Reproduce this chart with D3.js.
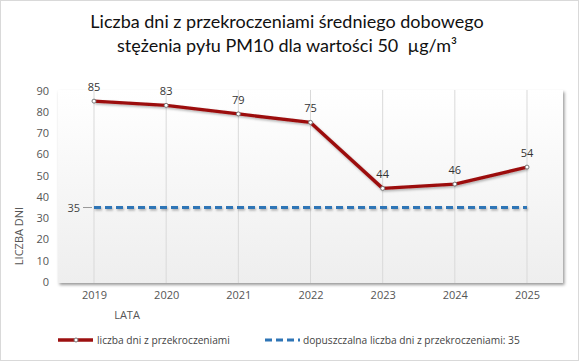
<!DOCTYPE html>
<html><head><meta charset="utf-8">
<script src="https://cdn.jsdelivr.net/npm/d3@7"></script>
<style>body{margin:0;background:#fff}svg{display:block}</style>
</head><body>
<script>
const years = ["2019","2020","2021","2022","2023","2024","2025"];
const days = [85, 83, 79, 75, 44, 46, 54];
const limitValue = 35;
const yTicks = [0,10,20,30,40,50,60,70,80,90];
const titleLines = ["Liczba dni z przekroczeniami średniego dobowego", "stężenia pyłu PM10 dla wartości 50  µg/m³"];
const seriesNames = ["liczba dni z przekroczeniami", "dopuszczalna liczba dni z przekroczeniami: 35"];

const W = 579, H = 361;
const svg = d3.select("body").append("svg").attr("width", W).attr("height", H);
const defs = svg.append("defs");
const grad = defs.append("linearGradient").attr("id","bg").attr("x1",0).attr("y1",0).attr("x2",0).attr("y2",1);
grad.append("stop").attr("offset","0%").attr("stop-color","#ffffff");
grad.append("stop").attr("offset","100%").attr("stop-color","#eeeeee");
const sh = defs.append("filter").attr("id","sh").attr("filterUnits","userSpaceOnUse")
  .attr("x",0).attr("y",0).attr("width",W).attr("height",H);
sh.append("feDropShadow").attr("dx",1.5).attr("dy",2).attr("stdDeviation",1.5).attr("flood-color","#000").attr("flood-opacity",0.4);
const lsh = defs.append("filter").attr("id","lsh").attr("filterUnits","userSpaceOnUse")
  .attr("x",0).attr("y",0).attr("width",W).attr("height",H);
lsh.append("feDropShadow").attr("dx",1).attr("dy",1.5).attr("stdDeviation",1).attr("flood-color","#000").attr("flood-opacity",0.3);

svg.append("rect").attr("x",0.5).attr("y",0.5).attr("width",W-1).attr("height",H-1).attr("fill","#fff").attr("stroke","#d9d9d9");

const font = "'Open Sans', sans-serif";
const plot = {l:58, r:563, t:90, b:283};
const x = d3.scalePoint().domain(years).range([94, 527]);
const y = d3.scaleLinear().domain([0,90]).range([282, 90.5]);

svg.append("rect").attr("x",plot.l).attr("y",plot.t).attr("width",plot.r-plot.l).attr("height",plot.b-plot.t)
  .attr("fill","url(#bg)").attr("filter","url(#sh)");

// title
svg.append("g").selectAll("text").data(titleLines).join("text")
  .attr("x", 287).attr("y",(d,i)=>28+i*24).attr("text-anchor","middle")
  .attr("font-family","Lato, 'Open Sans', sans-serif").attr("font-size",18).attr("fill","#111")
  .style("white-space","pre")
  .text(d=>d);

// vertical grid
svg.append("g").selectAll("line").data(years).join("line")
  .attr("x1",d=>x(d)).attr("x2",d=>x(d)).attr("y1",plot.t).attr("y2",plot.b)
  .attr("stroke","#d9d9d9").attr("stroke-width",1);

// y axis
const yAx = svg.append("g").attr("transform","translate(49,0)")
  .call(d3.axisLeft(y).tickValues(yTicks).tickSize(0).tickPadding(0));
yAx.select(".domain").remove();
yAx.selectAll("text").attr("font-family",font).attr("font-size",11).attr("fill","#555").attr("text-anchor","end");

// x axis
const xAx = svg.append("g").attr("transform",`translate(0,${plot.b})`)
  .call(d3.axisBottom(x).tickSize(0).tickPadding(8));
xAx.select(".domain").remove();
xAx.selectAll("text").attr("font-family",font).attr("font-size",11).attr("fill","#555");

svg.append("text").attr("x",127).attr("y",319).attr("text-anchor","middle")
  .attr("font-family",font).attr("font-size",11).attr("fill","#555").text("LATA");
svg.append("text").attr("transform","translate(23,236) rotate(-90)").attr("text-anchor","middle")
  .attr("font-family",font).attr("font-size",11).attr("fill","#555").text("LICZBA DNI");

// limit line
svg.append("line").attr("x1",x(years[0])).attr("x2",x(years[years.length-1]))
  .attr("y1",y(limitValue)).attr("y2",y(limitValue))
  .attr("stroke","#2e75b6").attr("stroke-width",3).attr("stroke-dasharray","7,4").attr("filter","url(#lsh)");
svg.append("line").attr("x1",83).attr("x2",92).attr("y1",y(limitValue)).attr("y2",y(limitValue)).attr("stroke","#999");
svg.append("text").attr("x",80).attr("y",y(limitValue)+4).attr("text-anchor","end")
  .attr("font-family",font).attr("font-size",11).attr("fill","#444").text(limitValue);

// data line
const line = d3.line().x((d,i)=>x(years[i])).y(d=>y(d));
svg.append("path").datum(days).attr("d",line).attr("fill","none")
  .attr("stroke","#9c1010").attr("stroke-width",3.4).attr("stroke-linejoin","round").attr("filter","url(#lsh)");
svg.append("g").selectAll("circle").data(days).join("circle")
  .attr("cx",(d,i)=>x(years[i])).attr("cy",d=>y(d)).attr("r",2)
  .attr("fill","#fff").attr("stroke","#777").attr("stroke-width",1);
svg.append("g").selectAll("text").data(days).join("text")
  .attr("x",(d,i)=>x(years[i])).attr("y",d=>y(d)-10).attr("text-anchor","middle")
  .attr("font-family",font).attr("font-size",11).attr("fill","#333").text(d=>d);

// legend
const lg = svg.append("g");
lg.append("line").attr("x1",58).attr("x2",93).attr("y1",340).attr("y2",340).attr("stroke","#9c1010").attr("stroke-width",3.4);
lg.append("circle").attr("cx",76).attr("cy",340).attr("r",2).attr("fill","#fff").attr("stroke","#777");
lg.append("text").attr("x",97).attr("y",344).attr("font-family",font).attr("font-size",10.2).attr("fill","#444").text(seriesNames[0]);
lg.append("line").attr("x1",265).attr("x2",300).attr("y1",340).attr("y2",340).attr("stroke","#2e75b6").attr("stroke-width",3).attr("stroke-dasharray","7,4");
lg.append("text").attr("x",303).attr("y",344).attr("font-family",font).attr("font-size",10.2).attr("fill","#444").text(seriesNames[1]);
</script>
</body></html>
